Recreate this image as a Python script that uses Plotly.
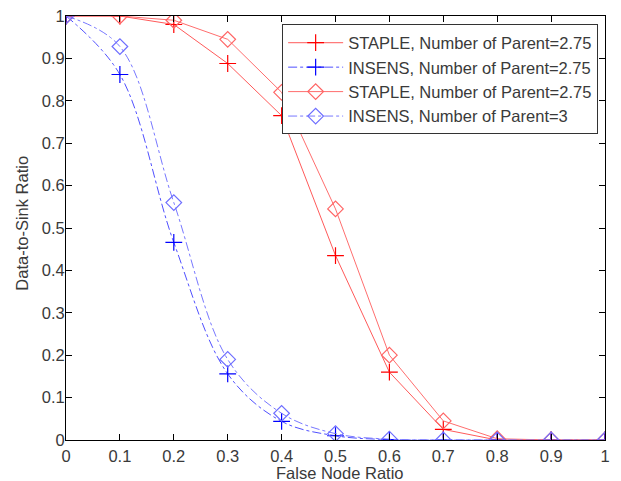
import plotly.graph_objects as go

x = [0, 0.1, 0.2, 0.3, 0.4, 0.5, 0.6, 0.7, 0.8, 0.9, 1.0]
staple_plus = [1.0, 1.0, 0.98, 0.888, 0.765, 0.435, 0.16, 0.025, 0.0, 0.0, 0.0]
insens_plus = [1.0, 0.862, 0.466, 0.156, 0.044, 0.01, 0.001, 0.0, 0.0, 0.0, 0.0]
staple_diam = [1.0, 1.0, 0.99, 0.945, 0.82, 0.545, 0.2, 0.045, 0.003, 0.0, 0.0]
insens_diam = [1.0, 0.928, 0.56, 0.19, 0.063, 0.015, 0.002, 0.0, 0.0, 0.0, 0.0]
names = ["STAPLE, Number of Parent=2.75", "INSENS, Number of Parent=2.75",
         "STAPLE, Number of Parent=2.75", "INSENS, Number of Parent=3"]
ticks = [0, 0.1, 0.2, 0.3, 0.4, 0.5, 0.6, 0.7, 0.8, 0.9, 1]
tick_text = ["0", "0.1", "0.2", "0.3", "0.4", "0.5", "0.6", "0.7", "0.8", "0.9", "1"]
x_title = "False Node Ratio"
y_title = "Data-to-Sink Ratio"

FONT = "Liberation Sans, Arial"
TXT = "#3a3a3a"

fig = go.Figure()
fig.add_trace(go.Scatter(x=x, y=staple_plus, name=names[0], mode="lines+markers",
                         line=dict(color="rgb(255,90,90)", width=1),
                         marker=dict(symbol="cross-thin", size=12, line=dict(color="rgb(255,0,0)", width=1.2))))
fig.add_trace(go.Scatter(x=x, y=insens_plus, name=names[1], mode="lines+markers",
                         line=dict(color="rgb(80,80,255)", width=1, dash="dashdot", shape="spline"),
                         marker=dict(symbol="cross-thin", size=12, line=dict(color="rgb(0,0,255)", width=1.2))))
fig.add_trace(go.Scatter(x=x, y=staple_diam, name=names[2], mode="lines+markers",
                         line=dict(color="rgb(255,110,110)", width=1),
                         marker=dict(symbol="diamond-open", size=12, color="rgb(255,100,100)", line=dict(width=1.2))))
fig.add_trace(go.Scatter(x=x, y=insens_diam, name=names[3], mode="lines+markers",
                         line=dict(color="rgb(120,120,255)", width=1, dash="dashdot", shape="spline"),
                         marker=dict(symbol="diamond-open", size=12, color="rgb(110,110,255)", line=dict(width=1.2))))

axis_common = dict(showline=True, linecolor="black", linewidth=1, mirror="ticks",
                   ticks="inside", ticklen=6, tickcolor="black", showgrid=False, zeroline=False,
                   tickfont=dict(family=FONT, size=16.5, color=TXT), ticklabeloverflow="allow",
                   automargin=False, tickvals=ticks, ticktext=tick_text, range=[0, 1])
fig.update_xaxes(ticklabelstandoff=1, **axis_common)
fig.update_yaxes(ticklabelstandoff=-3, **axis_common)

fig.add_annotation(text=x_title, xref="paper", yref="paper", x=0.508, y=-0.078,
                   xanchor="center", yanchor="middle", showarrow=False,
                   font=dict(family=FONT, size=16.5, color=TXT))
fig.add_annotation(text=y_title, xref="paper", yref="paper", x=-0.082, y=0.512,
                   xanchor="center", yanchor="middle", showarrow=False, textangle=-90,
                   font=dict(family=FONT, size=16.5, color=TXT))

fig.update_layout(width=621, height=481, margin=dict(l=66, r=16, t=16, b=41),
                  plot_bgcolor="white", paper_bgcolor="white",
                  legend=dict(x=0.401, y=0.98, xanchor="left", yanchor="top",
                              bordercolor="#333333", borderwidth=1, bgcolor="white",
                              font=dict(family=FONT, size=16.5, color=TXT),
                              tracegroupgap=0, itemwidth=55))
fig.write_html("out.html", config={"displayModeBar": False},
               post_script="document.body.style.margin='0';document.body.style.overflow='hidden';")
